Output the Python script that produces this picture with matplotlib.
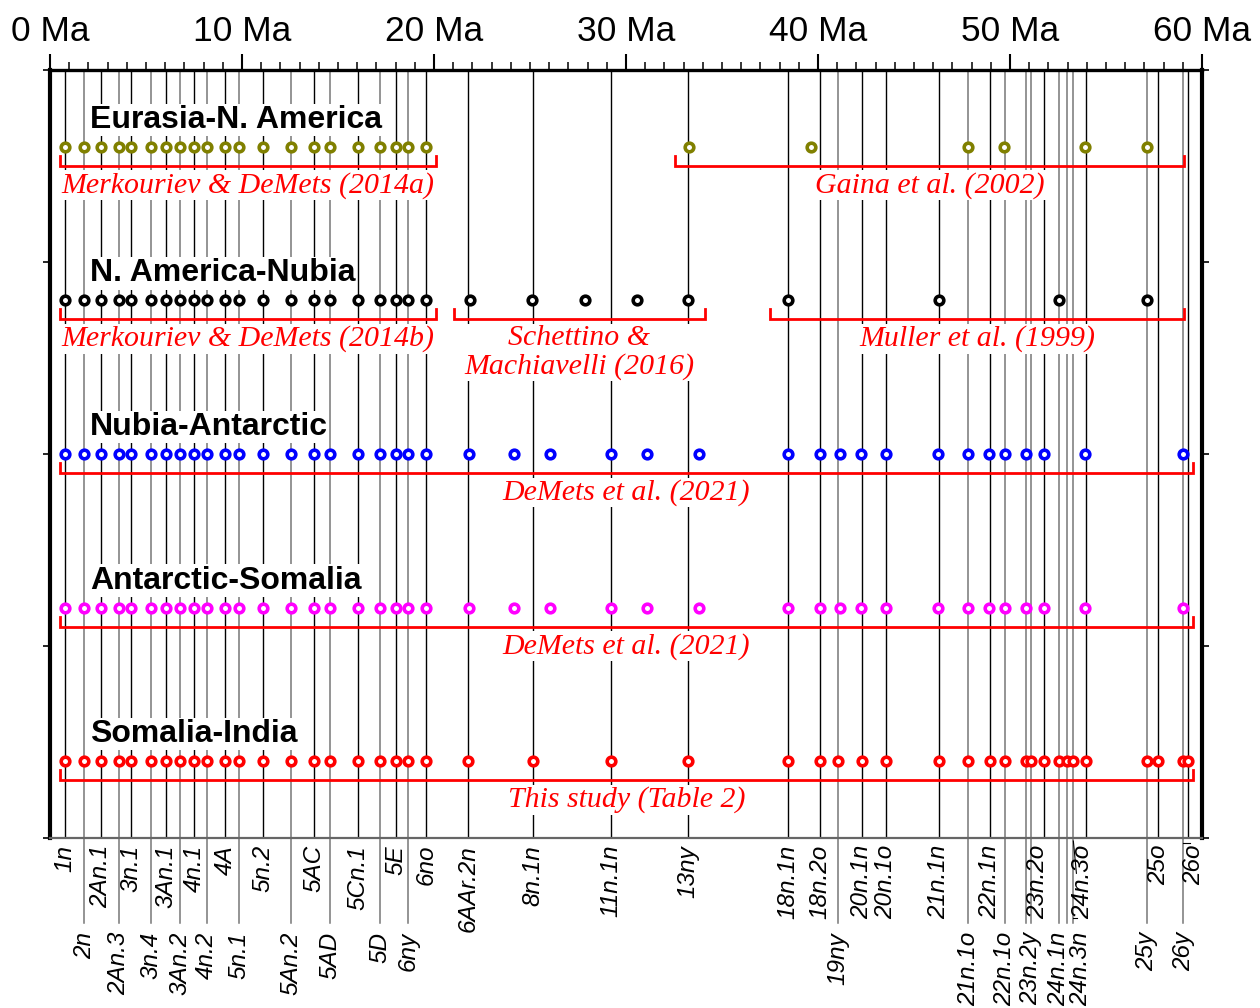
import numpy as np
import matplotlib.pyplot as plt

plt.rcParams['font.family'] = ['Liberation Sans', 'DejaVu Sans']

# magnetic reversals (Ma) and which label row they sit in
chron_name = ['1n', '2n', '2An.1', '2An.3', '3n.1', '3n.4', '3An.1', '3An.2', '4n.1', '4n.2',
              '4A', '5n.1', '5n.2', '5An.2', '5AC', '5AD', '5Cn.1', '5D', '5E', '6ny',
              '6no', '6AAr.2n', '8n.1n', '11n.1n', '13ny', '18n.1n', '18n.2o', '19ny', '20n.1n', '20n.1o',
              '21n.1n', '21n.1o', '22n.1n', '22n.1o', '', '23n.2y', '23n.2o', '24n.1n', '', '24n.3n',
              '24n.3o', '25y', '25o', '26y', '26o']
chron_age = [0.78, 1.79, 2.64, 3.59, 4.22, 5.26, 6.04, 6.77, 7.52, 8.16,
             9.11, 9.84, 11.11, 12.54, 13.75, 14.58, 16.02, 17.19, 18.02, 18.63,
             19.57, 21.76, 25.14, 29.22, 33.24, 38.45, 40.10, 41.06, 42.27, 43.52,
             46.29, 47.83, 48.96, 49.72, 50.82, 51.08, 51.77, 52.55, 52.95, 53.30,
             53.96, 57.12, 57.72, 59.03, 59.29]
chron_row = ['u', 'l', 'u', 'l', 'u', 'l', 'u', 'l', 'u', 'l',
             'u', 'l', 'u', 'l', 'u', 'l', 'u', 'l', 'u', 'l',
             'u', 'u', 'u', 'u', 'u', 'u', 'u', 'l', 'u', 'u',
             'u', 'l', 'u', 'l', '', 'l', 'u', 'l', '', 'l',
             'u', 'l', 'u', 'l', 'u']

young = chron_age[:21]
eur_nam = young + [33.26, 39.61, 47.80, 49.67, 53.92, 57.15]
nam_nub = young + [21.85, 25.10, 27.84, 30.59, 33.24, 38.45, 46.29, 52.55, 57.12]
nub_ant = young + [21.82, 24.17, 26.04, 29.22, 31.07, 33.80, 38.46, 40.10, 41.15, 42.24,
                   43.52, 46.25, 47.83, 48.91, 49.72, 50.83, 51.75, 53.93, 59.01]
ant_som = list(nub_ant)
som_ind = list(chron_age)

plates = ['Eurasia-N. America', 'N. America-Nubia', 'Nubia-Antarctic', 'Antarctic-Somalia', 'Somalia-India']
plate_ages = [eur_nam, nam_nub, nub_ant, ant_som, som_ind]
plate_colors = ['#808000', 'black', '#0000ff', '#ff00ff', '#ff0000']

ref_plate = [0, 0, 1, 1, 1, 2, 3, 4]
ref_start = [0.52, 32.55, 0.52, 21.04, 37.5, 0.52, 0.52, 0.52]
ref_end = [20.1, 59.06, 20.1, 34.1, 59.06, 59.53, 59.53, 59.53]
ref_text = ['Merkouriev & DeMets (2014a)', 'Gaina et al. (2002)',
            'Merkouriev & DeMets (2014b)', 'Schettino &\nMachiavelli (2016)', 'Muller et al. (1999)',
            'DeMets et al. (2021)', 'DeMets et al. (2021)', 'This study (Table 2)']

# label nudges for the crowded end (Ma)
nudge = {'23n.2o': -0.31, '24n.3o': -0.2, '24n.3n': 0.4, '26o': 0.3}

fig = plt.figure(figsize=(12.6, 10.08), dpi=100)
ax = fig.add_axes([50/1260, 170/1008, 1152/1260, 768/1008])
ax.set_xlim(0, 60)
ax.set_ylim(0, 4)
xt = ax.get_xaxis_transform()

row_y = [3.6, 2.8, 2.0, 1.2, 0.4]
px = 1/192.0   # one pixel in y data units

# vertical chron lines
for name, age, r in zip(chron_name, chron_age, chron_row):
    if r == 'u':
        ax.plot([age, age], [0, 1], color='black', lw=1.0, transform=xt, zorder=1)
    else:
        ax.plot([age, age], [-0.1107, 1], color='#777777', lw=1.1, transform=xt, zorder=1, clip_on=False)
    if name:
        x = age + nudge.get(name, 0)
        yy = -0.009 if r == 'u' else -0.1224
        ax.text(x, yy, name, transform=xt, rotation=90, ha='center', va='top',
                fontsize=17.5, fontstyle='italic')

# little leader lines at the crowded end
ax.plot([53.30, 53.46], [-0.004, -0.046], color='black', lw=0.8, transform=xt, clip_on=False)
ax.plot([53.30, 53.50], [-0.104, -0.104], color='black', lw=0.8, transform=xt, clip_on=False)
ax.plot([59.03, 59.40], [-0.006, -0.006], color='black', lw=0.8, transform=xt, clip_on=False)

# plates
for i in range(len(plates)):
    y = row_y[i]
    ax.plot(plate_ages[i], [y]*len(plate_ages[i]), 'o', ms=6.2, mew=2.6, mfc='white',
            mec=plate_colors[i], zorder=5)
    ax.text(2.08, y + 19*px, plates[i], fontsize=23, fontweight='bold', va='baseline',
            ha='left', zorder=4, bbox=dict(facecolor='white', edgecolor='none', pad=1))

# reference brackets
for p, s, e, t in zip(ref_plate, ref_start, ref_end, ref_text):
    y = row_y[p] - 19*px
    ax.plot([s, s, e, e], [y + 10*px, y, y, y + 10*px], color='#ff0000', lw=2.0, zorder=3,
            solid_joinstyle='miter')
    ax.text((s + e)/2, y - 6*px, t, color='#ff0000', fontsize=21.5, fontstyle='italic',
            family='Liberation Serif', ha='center', va='top', linespacing=1.08, zorder=4,
            bbox=dict(facecolor='white', edgecolor='none', pad=1))

# axes frame and ticks
ax.xaxis.tick_top()
ax.set_xticks(np.arange(0, 61, 10))
ax.set_xticklabels(['%d Ma' % v for v in range(0, 61, 10)], fontsize=25.5)
ax.set_xticks(np.arange(0, 61, 1), minor=True)
ax.tick_params(axis='x', which='major', direction='out', length=11.5, width=1.5, pad=4)
ax.tick_params(axis='x', which='minor', direction='out', length=6, width=1.1)
ax.set_yticks([0, 1, 2, 3, 4])
ax.tick_params(axis='y', left=True, right=True, direction='out', length=5, width=1.2,
               labelleft=False)
ax.spines['top'].set_linewidth(2.4)
ax.spines['left'].set_linewidth(3)
ax.spines['right'].set_linewidth(3)
ax.spines['bottom'].set_linewidth(1.6)
ax.spines['bottom'].set_color('#666666')

plt.savefig('out.png', dpi=100)
